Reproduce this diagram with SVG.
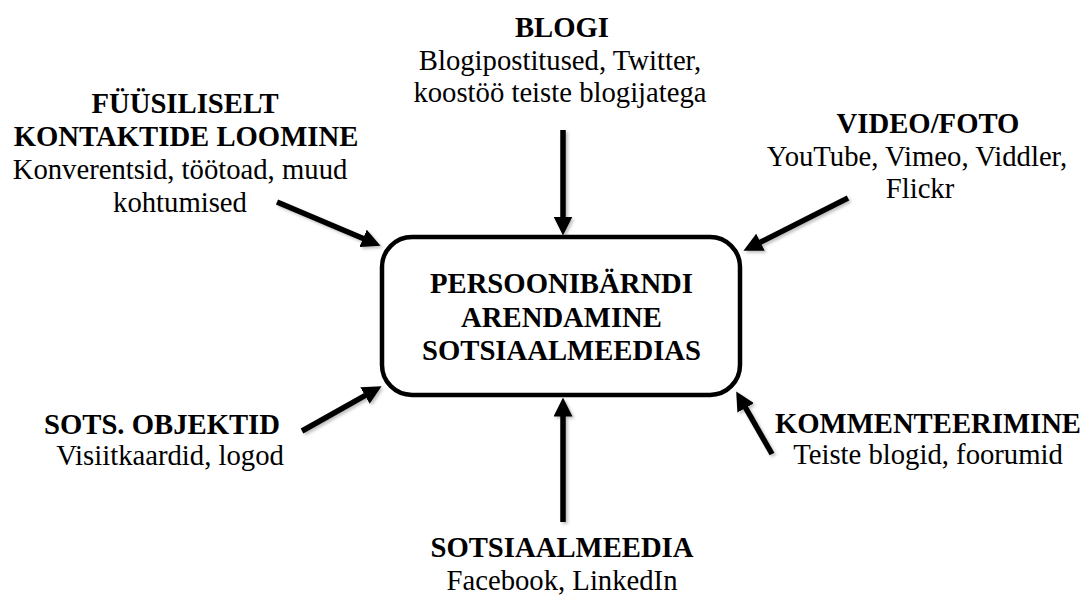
<svg xmlns="http://www.w3.org/2000/svg" width="1088" height="597" viewBox="0 0 1088 597">
  <style>
    text { font-family: "Liberation Serif", "DejaVu Serif", serif; font-size: 28.7px; fill: #000; text-anchor: middle; }
    .b { font-weight: bold; }
    .conn line { stroke: #000; stroke-width: 5.5; fill: none; marker-end: url(#ah); filter: url(#sh); }
    .box { fill: #fff; stroke: #000; stroke-width: 4.5; }
  </style>
  <defs>
    <marker id="ah" markerUnits="userSpaceOnUse" markerWidth="19" markerHeight="19" viewBox="0 0 19 19" refX="1.5" refY="9.5" orient="auto">
      <path d="M0,0 L19,9.5 L0,19 z" fill="#000"/>
    </marker>
    <filter id="sh" filterUnits="userSpaceOnUse" x="0" y="0" width="1088" height="597">
      <feDropShadow dx="2" dy="2" stdDeviation="1.5" flood-color="#000" flood-opacity="0.25"/>
    </filter>
  </defs>
  <rect width="1088" height="597" fill="#fff"/>

  <g id="connectors" class="conn">
    <line x1="563" y1="130" x2="563" y2="218"/>
    <line x1="563" y1="522" x2="563" y2="415"/>
    <line x1="277" y1="202" x2="364.4" y2="239"/>
    <line x1="848" y1="198" x2="759.1" y2="242.9"/>
    <line x1="302" y1="431" x2="366.3" y2="394.8"/>
    <line x1="772" y1="454" x2="744.9" y2="406.6"/>
  </g>

  <g id="center">
    <rect class="box" x="382" y="237" width="358" height="158" rx="30" ry="30"/>
    <text class="b" x="561.5" y="293">PERSOONIBÄRNDI</text>
    <text class="b" x="561.5" y="326.5">ARENDAMINE</text>
    <text class="b" x="561.5" y="359.5">SOTSIAALMEEDIAS</text>
  </g>

  <g id="blogi">
    <text class="b" x="562" y="37">BLOGI</text>
    <text x="560" y="69.5">Blogipostitused, Twitter,</text>
    <text x="560" y="102">koostöö teiste blogijatega</text>
  </g>

  <g id="fyysiliselt">
    <text class="b" x="185" y="113">FÜÜSILISELT</text>
    <text class="b" x="186" y="146">KONTAKTIDE LOOMINE</text>
    <text x="180" y="179">Konverentsid, töötoad, muud</text>
    <text x="180" y="212">kohtumised</text>
  </g>

  <g id="video">
    <text class="b" x="928" y="133">VIDEO/FOTO</text>
    <text x="917" y="165.5">YouTube, Vimeo, Viddler,</text>
    <text x="920" y="198">Flickr</text>
  </g>

  <g id="sots">
    <text class="b" x="162" y="434">SOTS. OBJEKTID</text>
    <text x="170" y="465">Visiitkaardid, logod</text>
  </g>

  <g id="kommenteerimine">
    <text class="b" x="928" y="433">KOMMENTEERIMINE</text>
    <text x="928" y="464">Teiste blogid, foorumid</text>
  </g>

  <g id="sotsiaalmeedia">
    <text class="b" x="562" y="557">SOTSIAALMEEDIA</text>
    <text x="562" y="590">Facebook, LinkedIn</text>
  </g>
</svg>
